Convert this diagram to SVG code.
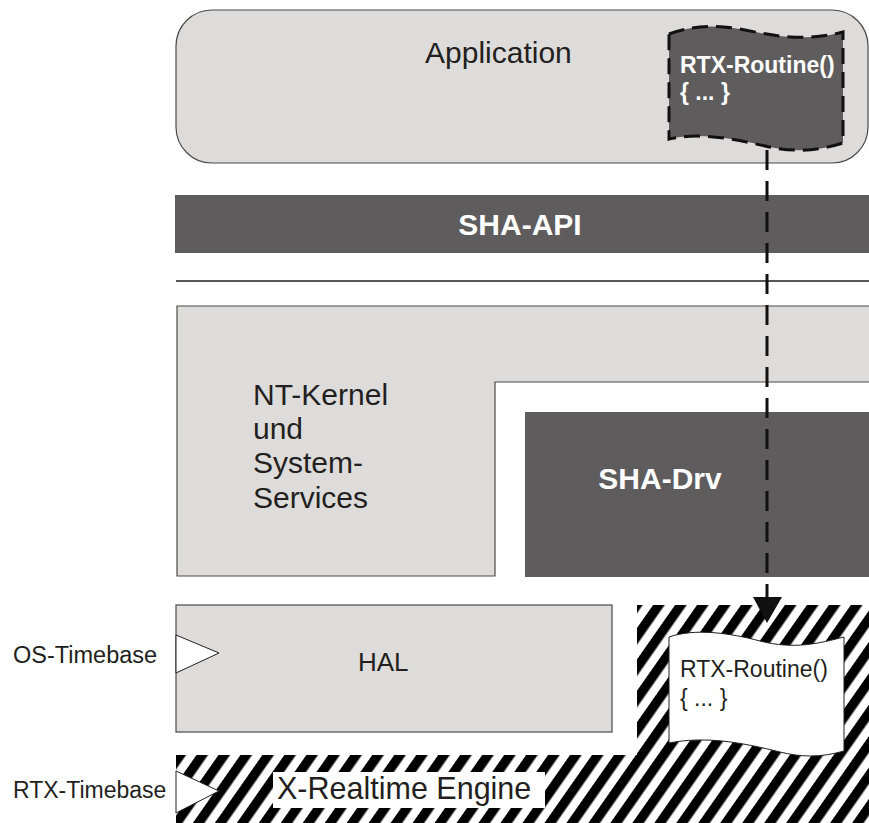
<svg xmlns="http://www.w3.org/2000/svg" width="869" height="823" viewBox="0 0 869 823">
  <style>
    .light { fill: #dddcda; stroke: #4a4a4a; stroke-width: 1.2; }
    .dark { fill: #5e5c5c; }
    .lbl { font-family: "Liberation Sans", Arial, sans-serif; fill: #231f20; }
    .wlbl { font-family: "Liberation Sans", Arial, sans-serif; fill: #ffffff; font-weight: bold; }
    .tri { fill: #ffffff; stroke: #231f20; stroke-width: 1; }
  </style>
  <defs>
    <pattern id="hatch" patternUnits="userSpaceOnUse" width="18" height="18" patternTransform="rotate(35)">
      <rect x="0" y="0" width="9.5" height="18" fill="#000000"/>
    </pattern>
  </defs>
  <rect x="0" y="0" width="869" height="823" fill="#ffffff"/>

  <g id="application">
    <rect class="light" x="176" y="10" width="692" height="153" rx="36" ry="36"/>
    <text class="lbl" x="425" y="63" font-size="30">Application</text>
  </g>

  <g id="rtx-routine-app">
    <path d="M669,34 C690,26 715,24 745,30 C775,36 805,42 843,32 V143 C815,152 790,152 765,146 C735,139 700,132 669,139 Z" fill="#5e5c5c" stroke="#111111" stroke-width="3" stroke-dasharray="16 8"/>
    <text class="wlbl" x="680" y="73" font-size="23">RTX-Routine()</text>
    <text class="wlbl" x="680" y="100" font-size="23">{ ... }</text>
  </g>

  <g id="sha-api">
    <rect class="dark" x="175" y="195" width="694" height="58"/>
    <text class="wlbl" x="520" y="235" font-size="30" text-anchor="middle">SHA-API</text>
  </g>

  <g id="separator">
    <line x1="176" y1="281" x2="869" y2="281" stroke="#231f20" stroke-width="1.5"/>
  </g>

  <g id="nt-kernel">
    <path class="light" d="M177,306 H870 V382 H495 V576 H177 Z"/>
    <text class="lbl" x="253" y="405" font-size="30">NT-Kernel</text>
    <text class="lbl" x="253" y="439" font-size="30">und</text>
    <text class="lbl" x="253" y="473" font-size="30">System-</text>
    <text class="lbl" x="253" y="508" font-size="30">Services</text>
  </g>

  <g id="sha-drv">
    <rect class="dark" x="525" y="412" width="344" height="165"/>
    <text class="wlbl" x="660" y="489" font-size="30" text-anchor="middle">SHA-Drv</text>
  </g>

  <g id="hal">
    <rect class="light" x="176" y="605" width="436" height="127"/>
    <text class="lbl" x="358" y="671" font-size="26">HAL</text>
    <polygon class="tri" points="176,635 176,673 219,653"/>
  </g>

  <g id="x-realtime-engine">
    <path d="M637,605 H869 V823 H176 V755 H637 Z" fill="url(#hatch)"/>
    <rect x="273" y="772" width="272" height="36" fill="#ffffff"/>
    <text class="lbl" x="277" y="799" font-size="30.5">X-Realtime Engine</text>
    <polygon class="tri" points="176,771 176,813 219,791"/>
  </g>

  <g id="rtx-routine-engine">
    <path d="M669,637 C695,628 730,633 760,641 C795,650 820,643 844,637 V751 C820,758 800,757 780,752 C740,742 705,736 669,743 Z" fill="#ffffff" stroke="#231f20" stroke-width="1"/>
    <text class="lbl" x="680" y="677" font-size="23">RTX-Routine()</text>
    <text class="lbl" x="680" y="706" font-size="23">{ ... }</text>
  </g>

  <g id="os-timebase">
    <text class="lbl" x="13" y="663" font-size="23.5">OS-Timebase</text>
  </g>
  <g id="rtx-timebase">
    <text class="lbl" x="13" y="798" font-size="23">RTX-Timebase</text>
  </g>

  <g id="connectors">
    <line x1="767" y1="150" x2="767" y2="598" stroke="#111111" stroke-width="3" stroke-dasharray="20 11"/>
    <polygon points="753,597 782,597 767,623" fill="#111111"/>
  </g>
</svg>
